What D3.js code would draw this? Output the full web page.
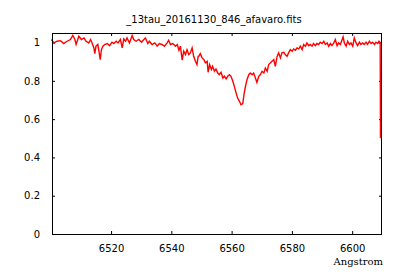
<!DOCTYPE html>
<html>
<head>
<meta charset="utf-8">
<script src="https://unpkg.com/d3@7/dist/d3.min.js"></script>
<style>
  body { margin: 0; background: #fff; }
  svg { display: block; }
  .tick text { font-family: "DejaVu Sans", sans-serif; font-size: 10px; fill: #000; }
  .tick line { stroke: #000; }
</style>
</head>
<body>
<svg width="400" height="280"></svg>
<script>
const title = '_13tau_20161130_846_afavaro.fits';
const xLabel = 'Angstrom';
const xTicks = [6520, 6540, 6560, 6580, 6600];
const yTicks = [0, 0.2, 0.4, 0.6, 0.8, 1];

// wavelength (Angstrom)
const wave = [
  6500.2, 6501.0, 6502.1, 6503.2, 6504.3, 6505.4, 6506.5, 6507.3, 6508.0, 6508.4,
  6509.3, 6510.2, 6511.0, 6511.7, 6512.6, 6513.2, 6513.7, 6514.3, 6514.6, 6515.0,
  6515.6, 6515.9, 6516.4, 6516.8, 6517.3, 6517.9, 6518.7, 6519.5, 6520.3, 6520.9,
  6521.7, 6522.3, 6523.1, 6523.7, 6524.2, 6524.8, 6525.3, 6526.1, 6527.0, 6527.5,
  6528.3, 6529.2, 6530.1, 6530.9, 6531.4, 6532.2, 6532.7, 6533.6, 6534.5, 6535.3,
  6536.0, 6536.9, 6537.7, 6538.6, 6539.1, 6539.7, 6540.5, 6541.4, 6542.0, 6542.5,
  6543.0, 6543.6, 6544.1, 6544.7, 6545.2, 6545.8, 6546.3, 6546.9, 6547.4, 6548.0,
  6548.5, 6548.9, 6549.1, 6549.6, 6550.2, 6550.8, 6551.3, 6551.9, 6552.2, 6552.7,
  6553.3, 6553.7, 6554.3, 6554.8, 6555.4, 6555.9, 6556.5, 6557.1, 6557.6, 6558.2,
  6558.7, 6559.3, 6559.8, 6560.4, 6560.9, 6561.5, 6562.0, 6562.6, 6563.1, 6563.7,
  6564.1, 6564.6, 6565.1, 6565.7, 6566.2, 6566.8, 6567.3, 6567.9, 6568.4, 6569.0,
  6569.5, 6570.1, 6570.7, 6571.2, 6571.8, 6572.3, 6572.9, 6573.4, 6574.0, 6574.5,
  6575.1, 6575.6, 6576.2, 6576.7, 6577.3, 6577.8, 6578.4, 6578.9, 6579.5, 6580.1,
  6580.6, 6581.2, 6581.7, 6582.3, 6582.8, 6583.4, 6583.9, 6584.5, 6585.0, 6585.6,
  6586.1, 6586.7, 6587.2, 6587.8, 6588.3, 6588.9, 6589.4, 6590.0, 6590.6, 6591.1,
  6591.7, 6592.2, 6592.8, 6593.3, 6593.9, 6594.4, 6595.0, 6595.5, 6596.1, 6596.6,
  6597.0, 6597.4, 6598.0, 6598.5, 6599.1, 6599.6, 6600.2, 6600.7, 6601.3, 6601.8,
  6602.4, 6602.9, 6603.5, 6604.0, 6604.6, 6605.1, 6605.7, 6606.3, 6606.8, 6607.4,
  6607.9, 6608.5, 6608.9, 6609.3, 6609.4
];

// normalised flux
const flux = [
  1.016, 0.998, 1.007, 1.010, 0.995, 1.007, 1.016, 1.037, 1.016, 0.990,
  1.033, 1.016, 1.024, 1.007, 0.998, 1.016, 0.998, 0.972, 0.942, 0.981,
  0.990, 0.963, 0.911, 0.963, 0.981, 0.990, 0.995, 0.984, 1.002, 0.995,
  1.007, 0.998, 1.016, 0.972, 1.019, 1.007, 1.024, 0.998, 1.037, 1.016,
  1.007, 1.016, 1.002, 1.016, 1.024, 0.995, 1.007, 0.990, 0.998, 0.981,
  0.995, 0.990, 0.981, 0.998, 1.012, 0.990, 0.995, 0.981, 0.990, 0.960,
  0.981, 0.908, 0.955, 0.937, 0.963, 0.937, 0.946, 0.972, 0.928, 0.902,
  0.885, 0.928, 0.928, 0.942, 0.920, 0.911, 0.894, 0.902, 0.845, 0.885,
  0.859, 0.876, 0.850, 0.862, 0.841, 0.832, 0.845, 0.815, 0.824, 0.810,
  0.824, 0.832, 0.824, 0.798, 0.771, 0.736, 0.710, 0.693, 0.675, 0.681,
  0.728, 0.771, 0.806, 0.832, 0.841, 0.832, 0.841, 0.815, 0.792, 0.824,
  0.832, 0.850, 0.841, 0.867, 0.850, 0.885, 0.894, 0.902, 0.911, 0.876,
  0.928, 0.946, 0.920, 0.946, 0.949, 0.937, 0.928, 0.946, 0.963, 0.955,
  0.967, 0.960, 0.972, 0.967, 0.981, 0.963, 0.990, 0.981, 0.998, 0.984,
  0.990, 0.981, 0.995, 0.984, 0.995, 0.990, 1.002, 0.995, 1.007, 0.990,
  0.998, 0.981, 0.995, 0.984, 0.998, 1.016, 0.984, 0.998, 0.990, 1.012,
  1.030, 0.998, 0.981, 1.007, 0.990, 0.998, 0.981, 1.024, 0.998, 0.984,
  1.002, 0.990, 0.998, 0.990, 1.002, 0.990, 1.007, 0.995, 1.002, 0.990,
  1.002, 0.995, 1.007, 1.000, 0.500
];

const svg = d3.select('svg');
const mLeft = 52, mRight = 382, mTop = 33, mBottom = 234;

const x = d3.scaleLinear().domain([6500.4, 6609.9]).range([mLeft, mRight]);
const y = d3.scaleLinear().domain([0, 1.05]).range([mBottom, mTop]);

const fmtY = d => String(d);

// ticks, mirrored on all four sides and pointing inward
svg.append('g')
  .attr('transform', `translate(0,${mBottom})`)
  .call(d3.axisBottom(x).tickValues(xTicks).tickSizeInner(-3).tickSizeOuter(0).tickPadding(11).tickFormat(d3.format('d')))
  .call(g => g.select('.domain').remove())
  .call(g => g.selectAll('text').attr('font-family', null).attr('font-size', null));

svg.append('g')
  .attr('transform', `translate(0,${mTop})`)
  .call(d3.axisTop(x).tickValues(xTicks).tickSizeInner(-3).tickSizeOuter(0).tickFormat(''))
  .call(g => g.select('.domain').remove());

svg.append('g')
  .attr('transform', `translate(${mLeft},0)`)
  .call(d3.axisLeft(y).tickValues(yTicks).tickSizeInner(-3).tickSizeOuter(0).tickPadding(12).tickFormat(fmtY))
  .call(g => g.select('.domain').remove())
  .call(g => g.selectAll('text').attr('font-family', null).attr('font-size', null));

svg.append('g')
  .attr('transform', `translate(${mRight},0)`)
  .call(d3.axisRight(y).tickValues(yTicks).tickSizeInner(-3).tickSizeOuter(0).tickFormat(''))
  .call(g => g.select('.domain').remove());

// spectrum
const pts = wave.map((w, i) => [w, flux[i]]);
svg.append('path')
  .datum(pts)
  .attr('fill', 'none')
  .attr('stroke', '#ff0000')
  .attr('stroke-width', 1.4)
  .attr('d', d3.line().x(d => x(d[0])).y(d => y(d[1])));

// border
svg.append('rect')
  .attr('x', mLeft + 0.5).attr('y', mTop + 0.5)
  .attr('width', mRight - mLeft - 1).attr('height', mBottom - mTop)
  .attr('fill', 'none')
  .attr('stroke', '#000')
  .attr('stroke-width', 1);

svg.append('text')
  .attr('x', 214).attr('y', 23)
  .attr('text-anchor', 'middle')
  .attr('font-family', 'DejaVu Sans, sans-serif')
  .attr('font-size', 10)
  .text(title);

svg.append('text')
  .attr('x', 383).attr('y', 265)
  .attr('text-anchor', 'end')
  .attr('font-family', 'DejaVu Serif, serif')
  .attr('font-size', 10)
  .text(xLabel);
</script>
</body>
</html>
